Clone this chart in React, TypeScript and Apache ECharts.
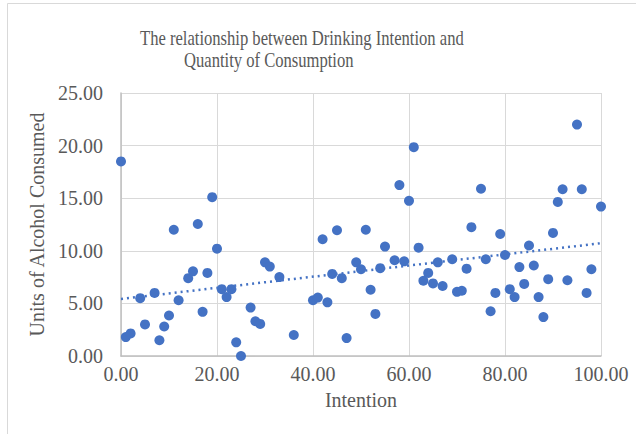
import React, { useEffect, useRef } from "react";
import * as echarts from "echarts";

const intention = [0, 1, 2, 4, 5, 7, 8, 9, 10, 11, 12, 14, 15, 16, 17, 18, 19, 20, 21, 22, 23, 24, 25, 27, 28, 29, 30, 31, 33, 36, 40, 41, 42, 43, 44, 45, 46, 47, 49, 50, 51, 52, 53, 54, 55, 57, 58, 59, 60, 61, 62, 63, 64, 65, 66, 67, 69, 70, 71, 72, 73, 75, 76, 77, 78, 79, 80, 81, 82, 83, 84, 85, 86, 87, 88, 89, 90, 91, 92, 93, 95, 96, 97, 98, 100];
const units = [18.5, 1.8, 2.15, 5.5, 3.0, 6.0, 1.5, 2.8, 3.85, 12.0, 5.3, 7.4, 8.05, 12.55, 4.2, 7.9, 15.1, 10.2, 6.35, 5.6, 6.35, 1.3, 0.0, 4.6, 3.3, 3.05, 8.9, 8.5, 7.5, 2.0, 5.3, 5.55, 11.1, 5.1, 7.8, 11.95, 7.4, 1.7, 8.9, 8.25, 12.0, 6.3, 4.0, 8.35, 10.4, 9.1, 16.25, 9.0, 14.75, 19.85, 10.3, 7.15, 7.9, 6.9, 8.9, 6.65, 9.2, 6.1, 6.2, 8.3, 12.25, 15.9, 9.2, 4.25, 6.0, 11.6, 9.6, 6.35, 5.6, 8.45, 6.85, 10.5, 8.6, 5.6, 3.7, 7.3, 11.7, 14.65, 15.85, 7.2, 22.0, 15.85, 6.0, 8.25, 14.2];
const trendX = [0, 100];
const trendY = [5.42, 10.72];
const yTicks = [0, 5, 10, 15, 20, 25];
const xTicks = [0, 20, 40, 60, 80, 100];

const serif = "'Liberation Serif', 'Times New Roman', serif";

export default function App() {
  const ref = useRef<HTMLDivElement>(null);
  useEffect(() => {
    if (!ref.current) return;
    const chart = echarts.init(ref.current, null, { renderer: "svg" });
    chart.setOption({
      animation: false,
      backgroundColor: "#ffffff",
      graphic: [
        {
          type: "rect",
          shape: { x: 7.5, y: 3.5, width: 640, height: 440 },
          style: { fill: "none", stroke: "#d9d9d9", lineWidth: 1 },
          silent: true,
        },
        {
          type: "text",
          x: 140,
          y: 28,
          scaleX: 0.83,
          style: { text: "The relationship between Drinking Intention and", font: `20px ${serif}`, fill: "#595959", verticalAlign: "top" },
        },
        {
          type: "text",
          x: 184,
          y: 50,
          scaleX: 0.83,
          style: { text: "Quantity of Consumption", font: `20px ${serif}`, fill: "#595959", verticalAlign: "top" },
        },
      ],
      grid: { left: 121, right: 35, top: 93, bottom: 78 },
      xAxis: {
        type: "value",
        min: xTicks[0],
        max: xTicks[xTicks.length - 1],
        interval: 20,
        name: "Intention",
        nameLocation: "middle",
        nameGap: 34,
        nameTextStyle: { fontFamily: serif, fontSize: 20, color: "#595959" },
        axisLine: { show: true, lineStyle: { color: "#bfbfbf", width: 1.5 } },
        axisTick: { show: false },
        axisLabel: { formatter: (v: number) => v.toFixed(2), fontFamily: serif, fontSize: 20, color: "#595959", margin: 8 },
        splitLine: { show: true, lineStyle: { color: "#d9d9d9", width: 1 } },
      },
      yAxis: {
        type: "value",
        min: yTicks[0],
        max: yTicks[yTicks.length - 1],
        interval: 5,
        name: "Units of Alcohol Consumed",
        nameLocation: "middle",
        nameGap: 64,
        nameTextStyle: { fontFamily: serif, fontSize: 20, color: "#595959" },
        axisLine: { show: true, lineStyle: { color: "#bfbfbf", width: 1.5 } },
        axisTick: { show: false },
        axisLabel: { formatter: (v: number) => v.toFixed(2), fontFamily: serif, fontSize: 20, color: "#595959", margin: 18 },
        splitLine: { show: true, lineStyle: { color: "#d9d9d9", width: 1 } },
      },
      series: [
        {
          type: "scatter",
          data: intention.map((x, i) => [x, units[i]]),
          symbolSize: 10,
          itemStyle: { color: "#4472C4", opacity: 1 },
          z: 3,
        },
        {
          type: "line",
          data: trendX.map((x, i) => [x, trendY[i]]),
          symbol: "none",
          lineStyle: { color: "#4472C4", width: 2.5, type: [2, 4] },
          z: 2,
        },
      ],
    });
    return () => chart.dispose();
  }, []);
  return <div ref={ref} style={{ position: "fixed", left: 0, top: 0, width: 636, height: 434 }} />;
}
